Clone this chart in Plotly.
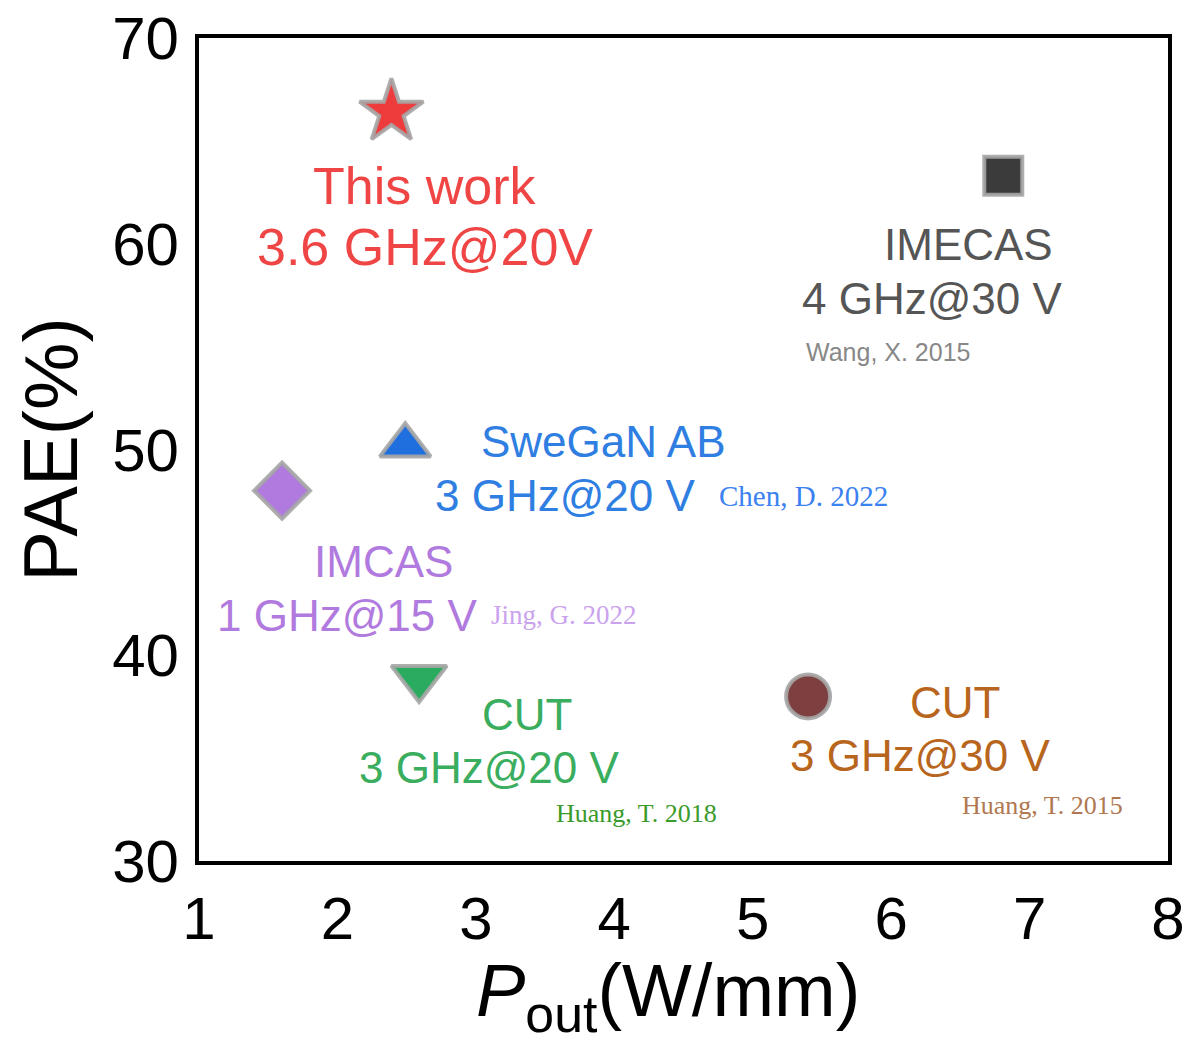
import plotly.graph_objects as go

# ---- data ----
names = ["This work", "IMECAS", "SweGaN AB", "IMCAS", "CUT", "CUT"]
freq_labels = ["3.6 GHz@20V", "4 GHz@30 V", "3 GHz@20 V", "1 GHz@15 V", "3 GHz@20 V", "3 GHz@30 V"]
refs = ["", "Wang, X. 2015", "Chen, D. 2022", "Jing, G. 2022", "Huang, T. 2018", "Huang, T. 2015"]
pout = [2.39, 6.81, 2.49, 1.60, 2.59, 5.40]
pae = [66.4, 63.3, 50.2, 48.0, 38.9, 38.0]
x_title = "<i>P</i><sub>out</sub>(W/mm)"
y_title = "PAE(%)"

# ---- styles ----
symbols = ["star", "square", "triangle-up", "diamond", "triangle-down", "circle"]
sizes = [48, 38, 44, 43, 48, 44]
marker_colors = ["#ee3b3b", "#3b3b3b", "#1f6fdf", "#b07ade", "#2bab5f", "#7d3f3f"]
text_colors = ["#f04545", "#555555", "#2f7ee2", "#b07ade", "#3aad5e", "#b8651d"]
ref_colors = ["#ffffff", "#888888", "#3b82f0", "#caa2ee", "#3a9a2a", "#b07850"]
ref_fonts = ["Liberation Serif", "Liberation Sans", "Liberation Serif", "Liberation Serif",
             "Liberation Serif", "Liberation Serif"]
ref_sizes = [26, 25, 29, 27, 26, 26]
name_sizes = [52, 44, 44, 44, 44, 44]
# label placements relative to marker (data units)
name_off = [(0.24, -3.57), (-0.25, -3.35), (1.43, 0.19), (0.73, -3.46), (0.78, -1.78), (1.06, -0.3)]
freq_off = [(0.24, -6.55), (-0.51, -5.98), (1.16, -2.44), (0.47, -6.05), (0.51, -4.36), (0.81, -2.88)]
ref_off = [(0, 0), (-0.83, -8.57), (2.88, -2.44), (2.04, -6.05), (1.57, -6.61), (1.69, -5.32)]

fig = go.Figure()
for i in range(len(names)):
    fig.add_trace(go.Scatter(
        x=[pout[i]], y=[pae[i]], mode="markers",
        marker=dict(symbol=symbols[i], size=sizes[i], color=marker_colors[i],
                    line=dict(color="rgba(165,165,165,0.9)", width=4)),
        showlegend=False, hoverinfo="skip"))
    nx, ny = name_off[i]
    fx, fy = freq_off[i]
    fig.add_annotation(x=pout[i] + nx, y=pae[i] + ny, text=names[i], showarrow=False,
                       font=dict(family="Liberation Sans, Arial", size=name_sizes[i], color=text_colors[i]))
    fig.add_annotation(x=pout[i] + fx, y=pae[i] + fy, text=freq_labels[i], showarrow=False,
                       font=dict(family="Liberation Sans, Arial", size=name_sizes[i], color=text_colors[i]))
    if refs[i]:
        rx, ry = ref_off[i]
        fig.add_annotation(x=pout[i] + rx, y=pae[i] + ry, text=refs[i], showarrow=False,
                           font=dict(family=ref_fonts[i], size=ref_sizes[i], color=ref_colors[i]))

# x-axis title as an annotation so it can sit slightly left of centre, as in the reference
fig.add_annotation(x=0.484, y=0, xref="paper", yref="paper", xanchor="center", yanchor="top",
                   yshift=-86, text=x_title, showarrow=False,
                   font=dict(family="Liberation Sans, Arial", size=74, color="black"))

fig.update_layout(
    width=1192, height=1041,
    margin=dict(l=191, r=32, t=30, b=188),
    plot_bgcolor="white", paper_bgcolor="white",
    font=dict(family="Liberation Sans, Arial", color="black"),
)
fig.update_xaxes(range=[1, 8], dtick=1, showgrid=False, zeroline=False, automargin=False,
                 showline=True, linecolor="black", linewidth=4, mirror=True,
                 ticks="", ticklabelstandoff=2, ticklabeloverflow="allow",
                 tickfont=dict(size=60))
fig.update_yaxes(range=[30, 70], dtick=10, showgrid=False, zeroline=False, automargin=False,
                 showline=True, linecolor="black", linewidth=4, mirror=True,
                 ticks="", ticklabelstandoff=4, ticklabeloverflow="allow",
                 tickfont=dict(size=60), title=dict(text=y_title, font=dict(size=76), standoff=28))

fig.write_html("out.html")
